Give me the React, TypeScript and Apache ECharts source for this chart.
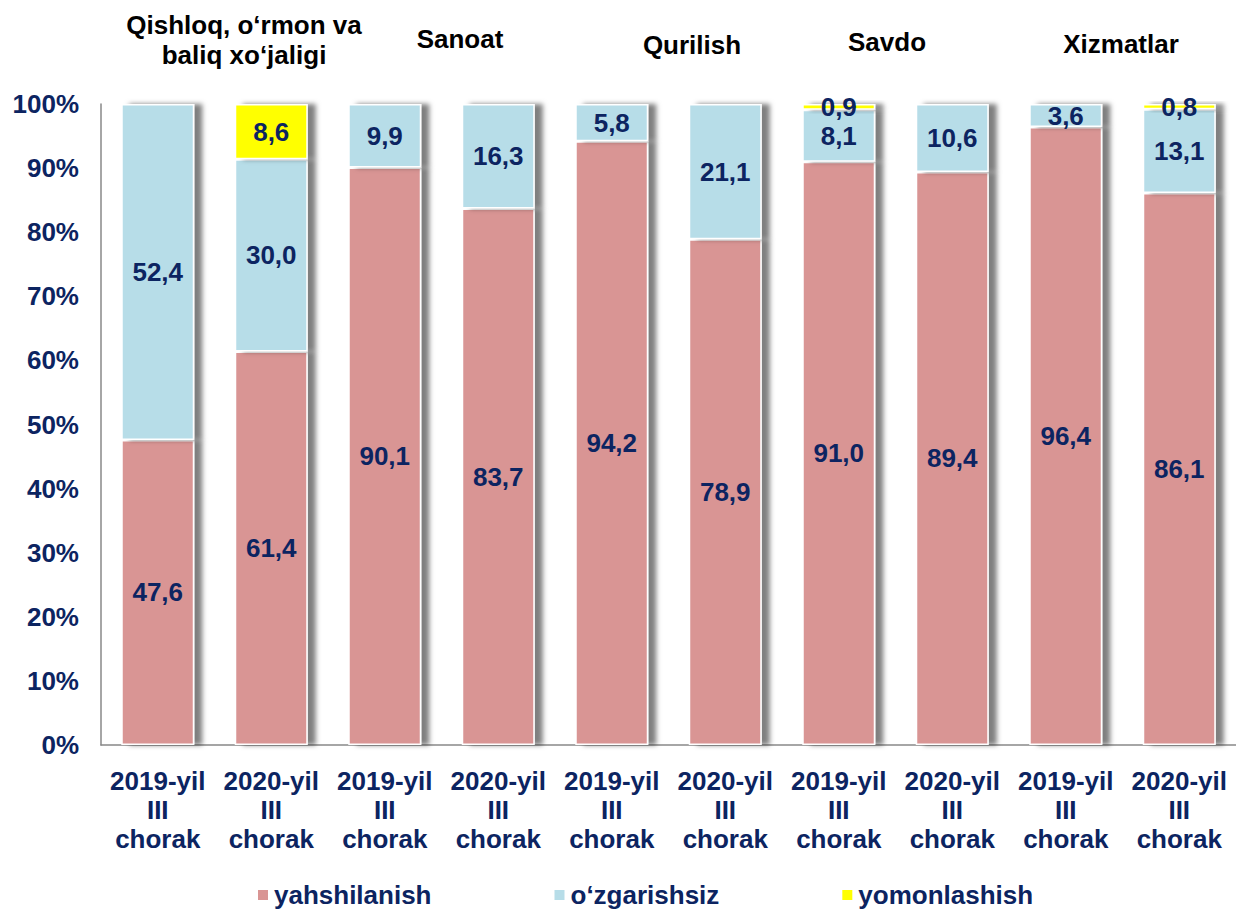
import React, { useEffect, useRef } from "react";
import * as echarts from "echarts";

const categories = [
  "2019-yil\nIII\nchorak", "2020-yil\nIII\nchorak",
  "2019-yil\nIII\nchorak", "2020-yil\nIII\nchorak",
  "2019-yil\nIII\nchorak", "2020-yil\nIII\nchorak",
  "2019-yil\nIII\nchorak", "2020-yil\nIII\nchorak",
  "2019-yil\nIII\nchorak", "2020-yil\nIII\nchorak",
];
const improved = [47.6, 61.4, 90.1, 83.7, 94.2, 78.9, 91.0, 89.4, 96.4, 86.1];
const unchanged = [52.4, 30.0, 9.9, 16.3, 5.8, 21.1, 8.1, 10.6, 3.6, 13.1];
const worsened = [0, 8.6, 0, 0, 0, 0, 0.9, 0, 0, 0.8];
const seriesNames = ["yahshilanish", "o‘zgarishsiz", "yomonlashish"];
const groupTitles = [
  { text: "Qishloq, o‘rmon va\nbaliq xo‘jaligi", x: 244, y: 40 },
  { text: "Sanoat", x: 460, y: 39 },
  { text: "Qurilish", x: 692, y: 45 },
  { text: "Savdo", x: 887, y: 42 },
  { text: "Xizmatlar", x: 1121, y: 44 },
];

const NAVY = "#0c2461";
const FONT = "'Liberation Sans', Arial, sans-serif";
const FS = 26;

export default function App() {
  const ref = useRef<HTMLDivElement>(null);
  useEffect(() => {
    if (!ref.current) return;
    const chart = echarts.init(ref.current, null, { renderer: "svg" });
    const label = {
      show: true,
      position: "inside" as const,
      color: NAVY,
      fontSize: FS,
      fontWeight: "bold" as const,
      fontFamily: FONT,
      formatter: (p: any) => (p.value > 0 ? p.value.toFixed(1).replace(".", ",") : ""),
    };
    const itemBase = {
      borderColor: "#ffffff",
      borderWidth: 1.5,
      shadowColor: "rgba(0,0,0,0.5)",
      shadowOffsetX: 8,
      shadowOffsetY: 0,
      shadowBlur: 5,
    };
    const colors = ["#d99594", "#b7dde8", "#ffff00"];
    const datas = [improved, unchanged, worsened];
    chart.setOption({
      animation: false,
      textStyle: { fontFamily: FONT },
      grid: { left: 101, right: 0, top: 104, bottom: 167, containLabel: false },
      legend: {
        left: 251,
        top: 877,
        itemWidth: 12,
        itemHeight: 12,
        itemGap: 121,
        icon: "rect",
        textStyle: { color: NAVY, fontSize: FS, fontWeight: "bold", fontFamily: FONT },
        data: seriesNames,
      },
      xAxis: {
        type: "category",
        data: categories,
        axisLine: { lineStyle: { color: "#888888", width: 1.5 } },
        axisTick: { show: false },
        axisLabel: {
          color: NAVY,
          fontSize: FS,
          fontWeight: "bold",
          fontFamily: FONT,
          lineHeight: 29,
          margin: 21,
          interval: 0,
        },
      },
      yAxis: {
        type: "value",
        min: 0,
        max: 100,
        interval: 10,
        axisLine: { show: true, lineStyle: { color: "#888888", width: 1.5 } },
        axisTick: { show: false },
        splitLine: { show: false },
        axisLabel: {
          formatter: "{value}%",
          color: NAVY,
          fontSize: FS,
          fontWeight: "bold",
          fontFamily: FONT,
          margin: 22,
        },
      },
      series: datas.map((d, i) => ({
        name: seriesNames[i],
        type: "bar",
        stack: "total",
        barWidth: 73,
        data: d,
        itemStyle: { ...itemBase, color: colors[i] },
        label,
      })),
      graphic: groupTitles.map((g) => ({
        type: "text",
        x: g.x,
        y: g.y,
        style: {
          text: g.text,
          fill: "#000000",
          font: `bold ${FS}px ${FONT}`,
          align: "center",
          verticalAlign: "middle",
          lineHeight: 30,
        },
      })),
    });
    return () => chart.dispose();
  }, []);
  return (
    <div
      ref={ref}
      style={{ position: "fixed", left: 0, top: 0, width: 1236, height: 912, background: "#fff" }}
    />
  );
}
